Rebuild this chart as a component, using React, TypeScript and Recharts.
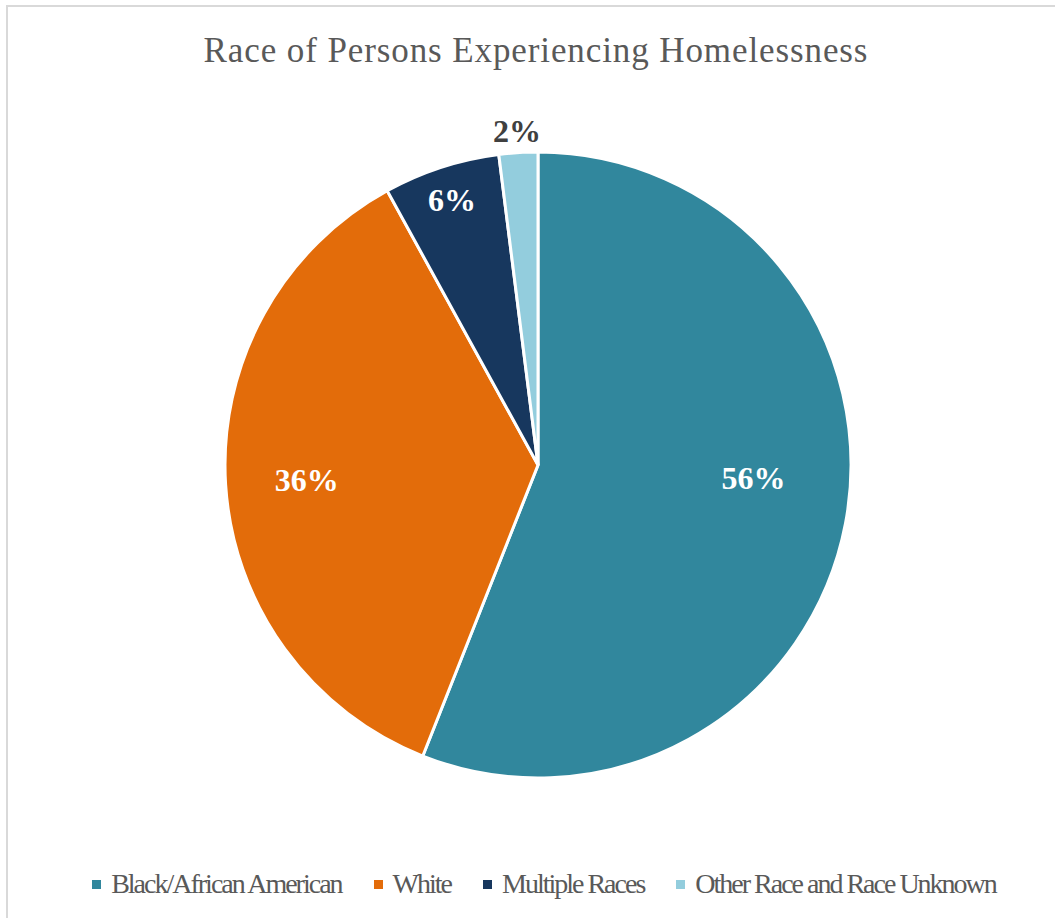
import { PieChart, Pie, Cell, Legend } from "recharts";

const races = ["Black/African American", "White", "Multiple Races", "Other Race and Race Unknown"];
const shares = [56, 36, 6, 2];
const colors = ["#31879d", "#e36c0a", "#17375e", "#93cddd"];

// label placement per slice: fraction of radius and an angle nudge (Excel "best fit")
const labelSpots = [0.69, 0.74, 0.89, 1.07];
const labelNudge = [7.4, 0, 0, 0];
const labelInk = ["#ffffff", "#ffffff", "#ffffff", "#404040"];

const data = races.map((name, i) => ({ name, value: shares[i] }));

const font = '"Liberation Serif", "Times New Roman", serif';

function PieLabel(props: any) {
  const { cx, cy, midAngle, outerRadius, index, value } = props;
  const r = outerRadius * labelSpots[index];
  const rad = (Math.PI / 180) * (midAngle + labelNudge[index]);
  const x = cx + r * Math.cos(rad);
  const y = cy - r * Math.sin(rad);
  return (
    <text
      x={x}
      y={y}
      fill={labelInk[index]}
      textAnchor="middle"
      dominantBaseline="central"
      fontFamily={font}
      fontWeight="bold"
      fontSize={32}
    >
      {value}%
    </text>
  );
}

function LegendRow() {
  return (
    <div
      style={{
        display: "flex",
        justifyContent: "center",
        alignItems: "center",
        gap: 32,
        paddingLeft: 16,
      }}
    >
      {races.map((r, i) => (
        <div key={r} style={{ display: "flex", alignItems: "center" }}>
          <span style={{ width: 9, height: 9, background: colors[i], marginRight: 10, display: "inline-block" }} />
          <span style={{ fontFamily: font, fontSize: 28, letterSpacing: -2, color: "#595959" }}>{r}</span>
        </div>
      ))}
    </div>
  );
}

export default function App() {
  return (
    <div
      style={{
        position: "absolute",
        left: 6,
        top: 5,
        width: 1060,
        height: 920,
        border: "2px solid #d9d9d9",
        boxSizing: "border-box",
        background: "#fff",
      }}
    >
      <div
        style={{
          position: "absolute",
          left: 0,
          right: 0,
          top: 24,
          textAlign: "center",
          fontFamily: font,
          fontSize: 35,
          letterSpacing: 0.9,
          color: "#595959",
        }}
      >
        Race of Persons Experiencing Homelessness
      </div>
      <PieChart width={1056} height={910} margin={{ top: 0, right: 0, bottom: 0, left: 0 }}>
        <Pie
          data={data}
          dataKey="value"
          nameKey="name"
          cx={530}
          cy={458}
          outerRadius={313}
          startAngle={90}
          endAngle={-270}
          stroke="#ffffff"
          strokeWidth={3}
          label={PieLabel}
          labelLine={false}
          isAnimationActive={false}
        >
          {data.map((d, i) => (
            <Cell key={d.name} fill={colors[i]} />
          ))}
        </Pie>
        <Legend
          content={<LegendRow />}
          verticalAlign="bottom"
          wrapperStyle={{ bottom: 17 }}
        />
      </PieChart>
    </div>
  );
}
